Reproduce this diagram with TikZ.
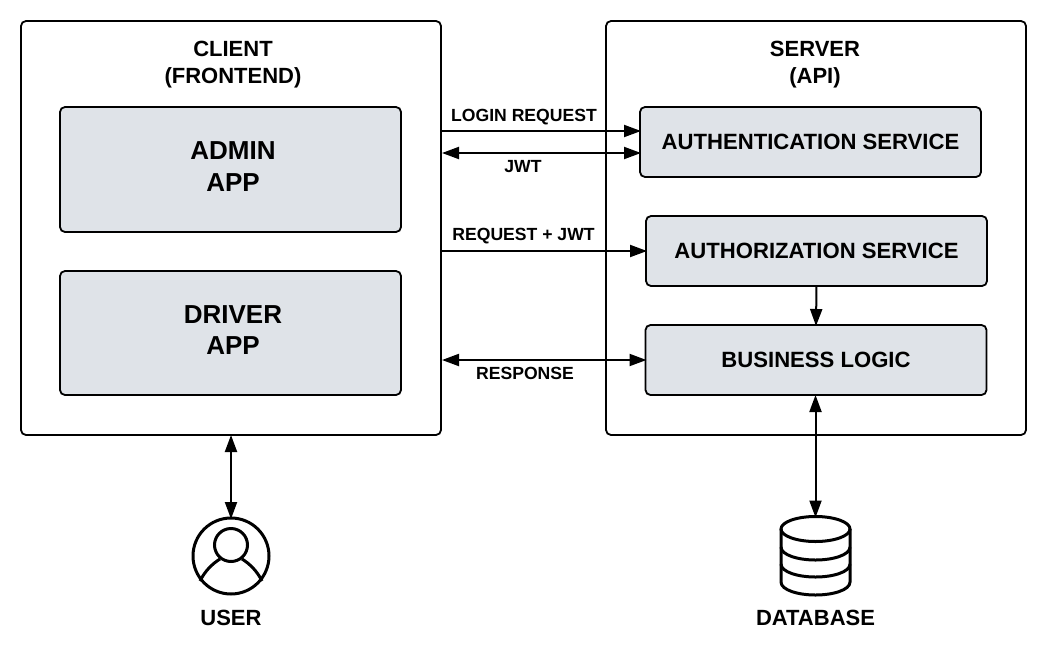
\documentclass[tikz,border=0pt]{standalone}
\usepackage{fontspec}
\setmainfont{Liberation Sans}
\usetikzlibrary{arrows.meta}
\definecolor{boxgray}{HTML}{DFE3E8}
\tikzset{
  panel/.style={draw=black, line width=1.8pt, rounded corners=5pt, fill=white, outer sep=0pt, inner sep=0pt},
  service/.style={panel, fill=boxgray, align=center, font=\fontsize{22.1}{26}\selectfont\bfseries},
  appbox/.style={panel, fill=boxgray, minimum width=341pt},
  apptext/.style={align=center, inner sep=0pt, font=\fontsize{26}{31.5}\selectfont\bfseries},
  link/.style={black, line width=2pt},
  icon/.style={black, line width=3pt},
  toright/.style={link, -{Triangle[length=17pt,width=12pt]}, shorten >=-1pt},
  bothways/.style={link, {Triangle[length=17pt,width=12pt]}-{Triangle[length=17pt,width=12pt]}, shorten >=-1pt},
  heading/.style={align=center, inner sep=0pt, font=\fontsize{22}{27}\selectfont\bfseries},
  caption/.style={inner sep=0pt, font=\fontsize{17.6}{21}\selectfont\bfseries},
}
\begin{document}
\begin{tikzpicture}[x=1pt, y=-1pt]
  \useasboundingbox (0,0) rectangle (1046,664);
  \node[panel, minimum width=420pt, minimum height=414pt] (client) at (231,228) {};
  \node[panel, minimum width=420pt, minimum height=414pt] (server) at (816,228) {};
  \node[heading] (clienttitle) at (233,65) {CLIENT\\(FRONTEND)};
  \node[heading] (servertitle) at (815,65) {SERVER\\(API)};
  \node[appbox, minimum height=125pt] (admin) at (230.5,169.5) {};
  \node[appbox, minimum height=124pt] (driver) at (230.5,333) {};
  \node[apptext] (admintext) at (233,166.5) {ADMIN\\APP};
  \node[apptext] (drivertext) at (233,330) {DRIVER\\APP};
  \node[service, minimum width=341pt, minimum height=70pt] (auth) at (810.5,142) {AUTHENTICATION SERVICE};
  \node[service, minimum width=341pt, minimum height=70pt] (authz) at (816.5,251) {AUTHORIZATION SERVICE};
  \node[service, minimum width=341pt, minimum height=70pt] (logic) at (816,360) {BUSINESS LOGIC};
  % free ends of the connectors
  \coordinate (loginfrom) at (441,131);
  \coordinate (loginto) at (640,131);
  \coordinate (jwtfrom) at (442,153);
  \coordinate (jwtto) at (640,153);
  \coordinate (reqfrom) at (441,251);
  \coordinate (respfrom) at (442,360);
  \draw[toright] (loginfrom) -- (loginto);
  \draw[bothways] (jwtfrom) -- (jwtto);
  \draw[toright] (reqfrom) -- (authz.west);
  \draw[bothways] (respfrom) -- (logic.west);
  \draw[toright] (authz.south) -- (logic.north);
  \node[caption] (logintext) at (524,117) {LOGIN REQUEST};
  \node[caption] (jwttext) at (523,167) {JWT};
  \node[caption] (reqtext) at (523.5,236) {REQUEST + JWT};
  \node[caption] (resptext) at (525,373) {RESPONSE};
  % user icon
  \node[circle, draw, icon, minimum size=76pt, inner sep=0pt, outer sep=0pt] (user) at (231,556) {};
  \node[circle, draw, icon, minimum size=33pt, inner sep=0pt, outer sep=0pt] (head) at (231,545) {};
  \draw[icon] (200,581) .. controls (205,571) and (212,564) .. (220,559);
  \draw[icon] (262,581) .. controls (257,571) and (250,564) .. (242,559);
  \draw[bothways] (client.south -| user.north) -- (user.north);
  \node[heading] (usertext) at (231,618) {USER};
  % database icon
  \coordinate (dbtop) at (815.5,516.5);
  \draw[icon] (815.5,529) ellipse [x radius=34.5, y radius=12.5];
  \draw[icon] (781,529) -- (781,582) .. controls (781,590) and (798,595) .. (815.5,595) .. controls (833,595) and (850,590) .. (850,582) -- (850,529);
  \draw[icon] (781,547) .. controls (781,555) and (798,560) .. (815.5,560) .. controls (833,560) and (850,555) .. (850,547);
  \draw[icon] (781,564) .. controls (781,572) and (798,577) .. (815.5,577) .. controls (833,577) and (850,572) .. (850,564);
  \draw[bothways] (logic.south -| dbtop) -- (dbtop);
  \node[heading, font=\fontsize{22}{26}\selectfont\bfseries] (dbtext) at (815.5,618) {DATABASE};
\end{tikzpicture}
\end{document}
